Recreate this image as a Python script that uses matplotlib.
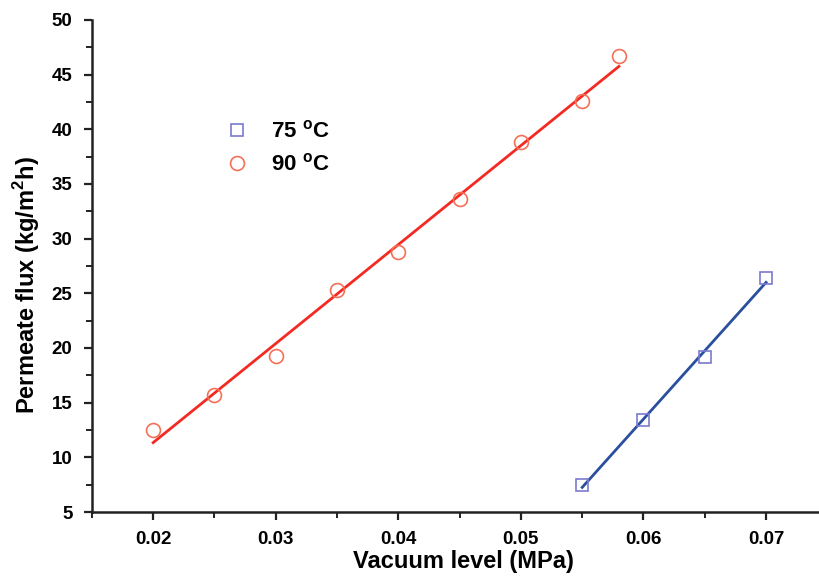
import numpy as np
import matplotlib
matplotlib.use("Agg")
import matplotlib.pyplot as plt
from matplotlib.ticker import MultipleLocator

plt.rcParams['font.family'] = ['Liberation Sans', 'DejaVu Sans']
plt.rcParams['mathtext.fontset'] = 'custom'
plt.rcParams['mathtext.rm'] = 'Liberation Sans'
plt.rcParams['mathtext.bf'] = 'Liberation Sans:bold'

# data
x75 = [0.055, 0.060, 0.065, 0.070]
y75 = [7.5, 13.4, 19.2, 26.4]
x90 = [0.020, 0.025, 0.030, 0.035, 0.040, 0.045, 0.050, 0.055, 0.058]
y90 = [12.5, 15.7, 19.3, 25.3, 28.8, 33.6, 38.8, 42.6, 46.7]

fig = plt.figure(figsize=(8.2, 5.79), dpi=100)
ax = fig.add_axes([0.112, 0.1157, 0.888, 0.8498])

# linear fits
p75 = np.polyfit(x75, y75, 1)
p90 = np.polyfit(x90, y90, 1)
ax.plot(x75, np.polyval(p75, x75), color='#2a4f9e', lw=2)
ax.plot(x90, np.polyval(p90, x90), color='#f42a22', lw=2)

ax.plot(x75, y75, ls='none', marker='s', ms=9, mfc='none', mec='#7a7ad0', mew=1.2, label='75 $^{\\mathbf{o}}$C')
ax.plot(x90, y90, ls='none', marker='o', ms=10, mfc='none', mec='#f47058', mew=1.2, label='90 $^{\\mathbf{o}}$C')

ax.set_xlim(0.015, 0.0744)
ax.set_ylim(5, 50)
ax.xaxis.set_minor_locator(MultipleLocator(0.005))
ax.yaxis.set_major_locator(MultipleLocator(5))
ax.yaxis.set_minor_locator(MultipleLocator(2.5))
ax.set_xticks([0.02, 0.03, 0.04, 0.05, 0.06, 0.07])
ax.set_xticklabels(['0.02', '0.03', '0.04', '0.05', '0.06', '0.07'])

for s in ['top', 'right']:
    ax.spines[s].set_visible(False)
for s in ['left', 'bottom']:
    ax.spines[s].set_linewidth(1.8)
    ax.spines[s].set_color('#222222')

ax.tick_params(which='major', direction='out', length=6, width=1.6, labelsize=13.5, pad=8, color='#222222')
ax.tick_params(which='minor', direction='out', length=4, width=1.4, color='#222222')
for lab in ax.get_xticklabels() + ax.get_yticklabels():
    lab.set_fontweight('bold')

ax.set_xlabel('Vacuum level (MPa)', fontsize=17, fontweight='bold')
ax.set_ylabel('Permeate flux (kg/m$^{\\mathbf{2}}$h)', fontsize=17, fontweight='bold')
ax.xaxis.set_label_coords(0.51, -0.078)
ax.yaxis.set_label_coords(-0.068, 0.462)

ax.legend(loc='center left', bbox_to_anchor=(0.157, 0.74), frameon=False,
          prop={'weight': 'bold', 'size': 16}, handletextpad=1.0, labelspacing=0.5,
          handlelength=1.0)

fig.savefig('out.png', dpi=100)
